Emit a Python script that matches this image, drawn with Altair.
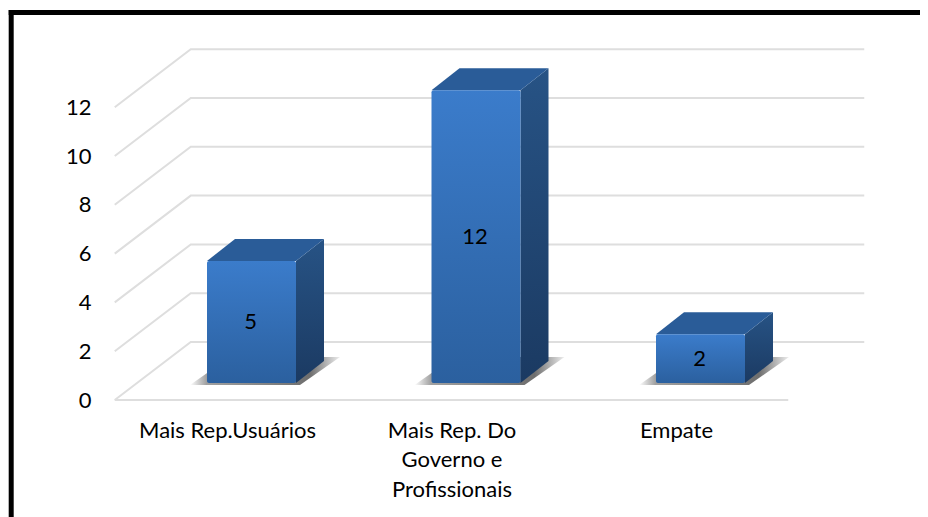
import json
import altair as alt
import pandas as pd

categories = ["Mais Rep.Usuários", "Mais Rep. Do|Governo e|Profissionais", "Empate"]
values = [5, 12, 2]
y_ticks = [0, 2, 4, 6, 8, 10, 12]

W, H = 912, 509
PX_X = 224.5   # pixels per category step
PX_Y = 24.4    # pixels per value unit
ORIGIN_X = 219.0  # plot px of category 0 on the front plane
ORIGIN_Y = 392.0  # plot px of value 0 on the front plane


def ux(px):
    return px / PX_X


def uy(px):
    return px / PX_Y


x_scale = alt.Scale(domain=[-ORIGIN_X / PX_X, (W - ORIGIN_X) / PX_X], zero=False, nice=False)
y_scale = alt.Scale(domain=[-(H - ORIGIN_Y) / PX_Y, ORIGIN_Y / PX_Y], zero=False, nice=False)

FLOOR_DX, FLOOR_DY = ux(76), uy(58)
LIFT_DX, LIFT_DY = ux(24.5), uy(17)
HALF_W = ux(44.5)
BOX_DX, BOX_DY = ux(28), uy(22)

grid_rows = []
for t in y_ticks:
    grid_rows += [
        {"t": t, "x": -0.5, "y": t},
        {"t": t, "x": -0.5 + FLOOR_DX, "y": t + FLOOR_DY},
        {"t": t, "x": 2.5 + FLOOR_DX, "y": t + FLOOR_DY},
    ]
grid_df = pd.DataFrame(grid_rows)
floor_df = pd.DataFrame({"x": [-0.5, 2.5], "y": [0, 0]})

front, side, top, shadow = [], [], [], []
for i, v in enumerate(values):
    xl = i + LIFT_DX - HALF_W
    xr = i + LIFT_DX + HALF_W
    y0 = LIFT_DY
    y1 = LIFT_DY + v
    front.append({"x": xl, "x2": xr, "y": y0, "y2": y1, "cx": i + LIFT_DX - ux(1), "cy": y0 + v / 2, "label": str(v)})
    side += [
        {"b": i, "x": xr, "y": y0, "y2": y1},
        {"b": i, "x": xr + BOX_DX, "y": y0 + BOX_DY, "y2": y1 + BOX_DY},
    ]
    top += [
        {"b": i, "x": xl, "y": y1, "y2": y1},
        {"b": i, "x": xl + BOX_DX, "y": y1, "y2": y1 + BOX_DY},
        {"b": i, "x": xr, "y": y1, "y2": y1 + BOX_DY},
        {"b": i, "x": xr + BOX_DX, "y": y1 + BOX_DY, "y2": y1 + BOX_DY},
    ]
    s0 = y0 - uy(2)
    s1 = y0 + uy(26)
    sl = xl - ux(17)
    sr = xr + ux(4)
    sd = ux(40)
    shadow += [
        {"b": i, "x": sl, "y": s0, "y2": s0},
        {"b": i, "x": sl + sd, "y": s0, "y2": s1},
        {"b": i, "x": sr, "y": s0, "y2": s1},
        {"b": i, "x": sr + sd, "y": s1, "y2": s1},
    ]
front_df = pd.DataFrame(front)
side_df = pd.DataFrame(side)
top_df = pd.DataFrame(top)
shadow_df = pd.DataFrame(shadow)


def grad(stops, horizontal=False):
    return alt.LinearGradient(
        gradient="linear",
        stops=[alt.GradientStop(color=c, offset=o) for o, c in stops],
        x1=0, y1=0,
        x2=1 if horizontal else 0,
        y2=0 if horizontal else 1,
    )


FONT = "Lato"
label_expr = "split(" + json.dumps(categories, ensure_ascii=False) + "[datum.value], '|')"

x_axis = alt.Axis(
    values=[0, 1, 2], labelExpr=label_expr, orient="bottom", offset=-(H - 412),
    domain=False, ticks=False, grid=False, labelPadding=0, labelFont=FONT,
    labelFontSize=22, labelColor="#000000", labelLineHeight=29.5, labelBaseline="top",
    labelOverlap=False, labelFlush=False, labelBound=False, labelAlign="center", title=None)
y_axis = alt.Axis(
    values=y_ticks, orient="left", offset=-83, domain=False, ticks=False, grid=False,
    labelPadding=0, labelFont=FONT, labelFontSize=22, labelColor="#000000",
    labelOverlap=False, labelBound=False, labelFlush=False, format="d", title=None)

X = alt.X("x:Q", scale=x_scale, axis=x_axis)
Y = alt.Y("y:Q", scale=y_scale, axis=y_axis)
Y2 = alt.Y2("y2:Q")

grid = alt.Chart(grid_df).mark_line(color="#dedede", strokeWidth=2).encode(x=X, y=Y, detail="t:N")
floor = alt.Chart(floor_df).mark_line(color="#dedede", strokeWidth=2).encode(x=X, y=Y)

shadow_layer = alt.Chart(shadow_df).mark_area(
    fill=grad([(0, "#ffffff"), (0.11, "#a0a0a0"), (0.8, "#6e6e6e"), (1, "#eeeeee")], horizontal=True)
).encode(x=X, y=Y, y2=Y2, detail="b:N")

side_layer = alt.Chart(side_df).mark_area(
    fill=grad([(0, "#275385"), (1, "#1b3a62")])
).encode(x=X, y=Y, y2=Y2, detail="b:N")

top_layer = alt.Chart(top_df).mark_area(fill="#2a5c98").encode(x=X, y=Y, y2=Y2, detail="b:N")

front_layer = alt.Chart(front_df).mark_rect(
    fill=grad([(0, "#3b7ccb"), (1, "#2b609f")]), cornerRadius=2
).encode(x=X, x2="x2:Q", y=Y, y2=Y2)

text_layer = alt.Chart(front_df).mark_text(
    font=FONT, fontSize=22, color="#000000", align="center", baseline="middle"
).encode(
    x=alt.X("cx:Q", scale=x_scale, axis=x_axis),
    y=alt.Y("cy:Q", scale=y_scale, axis=y_axis),
    text="label:N",
)

frame_src = pd.DataFrame({"k": [0]})
frame_left = alt.Chart(frame_src).mark_rule(color="#000000", strokeWidth=5).encode(
    x=alt.value(3.2), y=alt.value(2), y2=alt.value(H)
)
frame_top = alt.Chart(frame_src).mark_rule(color="#000000", strokeWidth=5).encode(
    x=alt.value(0.7), x2=alt.value(W), y=alt.value(4.5)
)

chart = alt.layer(
    grid, floor, shadow_layer, side_layer, top_layer, front_layer, text_layer, frame_left, frame_top
).properties(
    width=W, height=H, padding=0, autosize=alt.AutoSizeParams(type="none"), background="#ffffff"
).configure_view(stroke=None)

chart.save("out.html", embed_options={"renderer": "svg", "actions": False})
